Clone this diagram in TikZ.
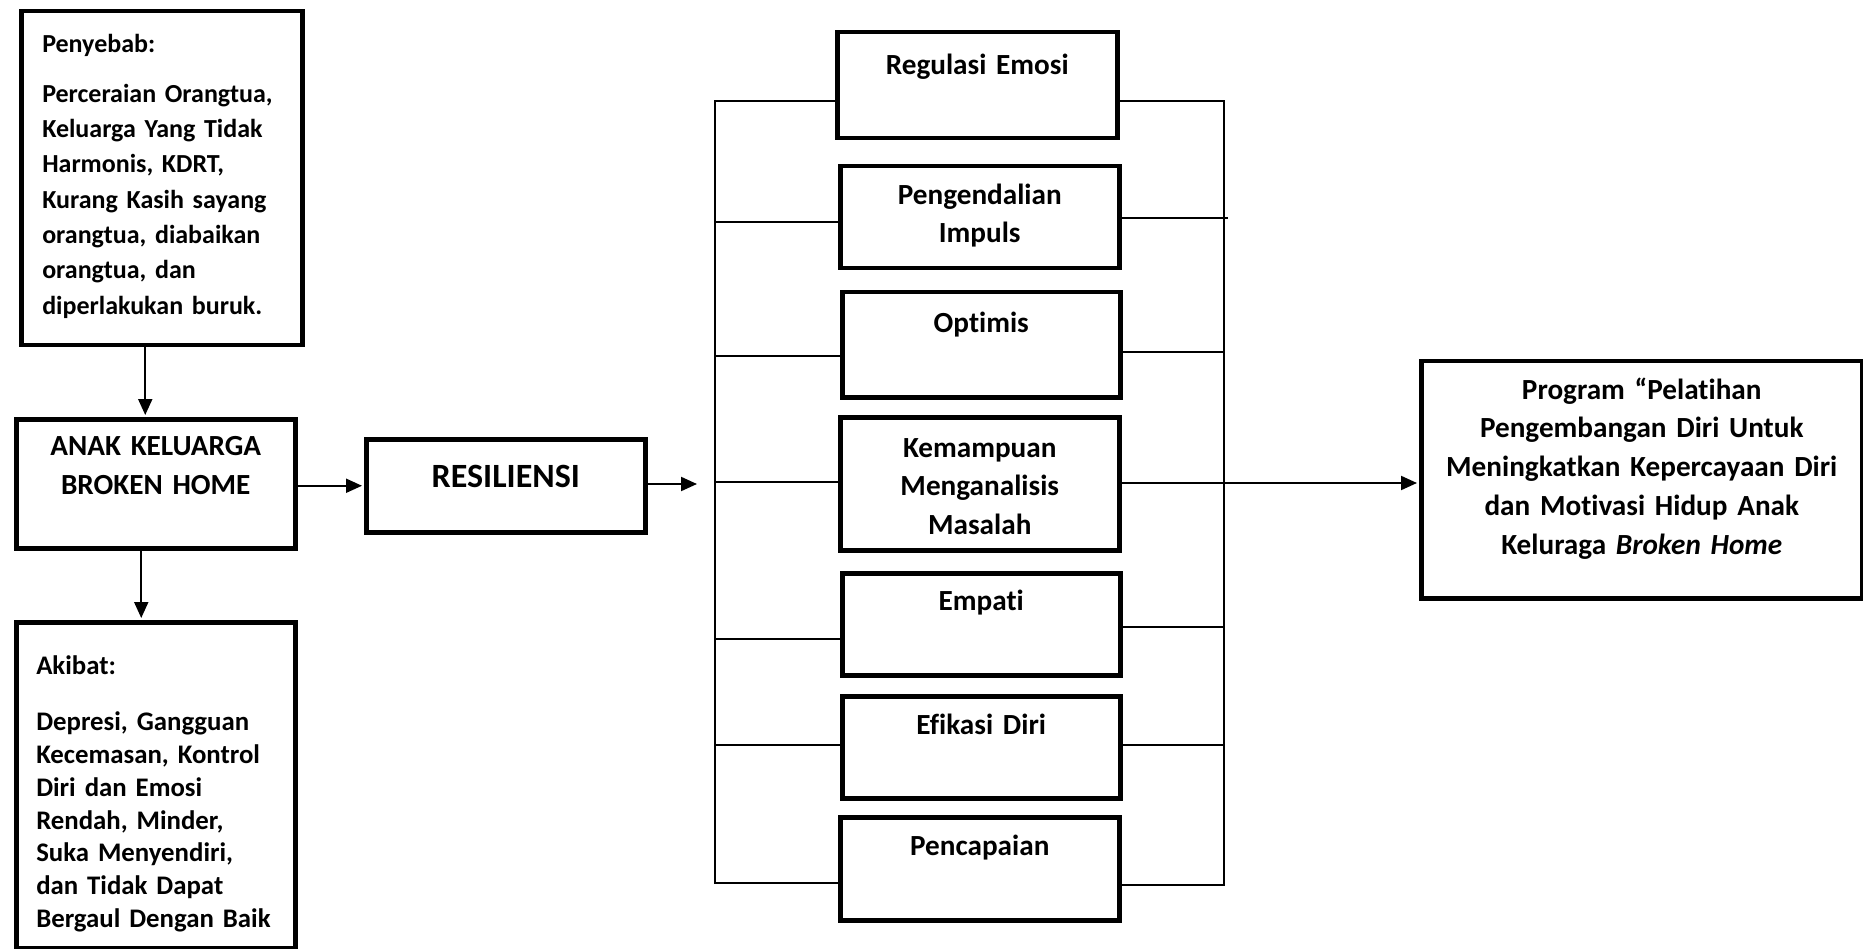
\documentclass[tikz,border=0pt]{standalone}
\usepackage{fontspec}
\setmainfont{Carlito}[Ligatures=NoCommon]
\usetikzlibrary{positioning,arrows.meta}

\begin{document}
\begin{tikzpicture}[x=1pt, y=-1pt,
    box/.style={draw, line width=4.5pt, anchor=north west, inner ysep=0pt, inner xsep=0pt, align=center, font=\fontsize{29.2}{38.5}\selectfont\bfseries},
    listbox/.style={box, align=left},
    conn/.style={line width=2pt},
    arr/.style={conn, shorten >=2pt, -{Triangle[length=16pt,width=14pt]}}]

    \useasboundingbox (0,0) rectangle (1863,949);

    % left column
    \node (penyebab) [listbox, inner xsep=21pt, text width=239pt, text height=41pt, text depth=293pt, font=\fontsize{26}{35.3}\selectfont\bfseries] at (19,9) {Penyebab:\\[14.7pt]
    Perceraian Orangtua,\\
    Keluarga Yang Tidak\\
    Harmonis, KDRT,\\
    Kurang Kasih sayang\\
    orangtua, diabaikan\\
    orangtua, dan\\
    diperlakukan buruk.};

    \node (anak) [box, text width=279pt, text height=36pt, text depth=93pt, font=\fontsize{29.2}{39}\selectfont\bfseries] at (14,417) {ANAK KELUARGA\\
    BROKEN HOME};

    \node (akibat) [listbox, inner xsep=20pt, text width=239pt, text height=52pt, text depth=274pt, font=\fontsize{26.8}{32.7}\selectfont\bfseries] at (14,620) {Akibat:\\[24pt]
    Depresi, Gangguan\\
    Kecemasan, Kontrol\\
    Diri dan Emosi\\
    Rendah, Minder,\\
    Suka Menyendiri,\\
    dan Tidak Dapat\\
    Bergaul Dengan Baik};

    \node (resiliensi) [box, text width=279pt, text height=48pt, text depth=45pt, font=\fontsize{34}{38}\selectfont\bfseries] at (364,437) {RESILIENSI};

    % aspects
    \node (regulasi) [box, text width=280pt, text height=42pt, text depth=64pt] at (835,30) {Regulasi Emosi};
    \node (pengendalian) [box, text width=279pt, text height=38pt, text depth=64pt, font=\fontsize{29.2}{38}\selectfont\bfseries] at (838,164) {Pengendalian\\
    Impuls};
    \node (optimis) [box, text width=278pt, text height=40pt, text depth=65pt] at (840,290) {Optimis};
    \node (kemampuan) [box, text width=279pt, text height=40pt, text depth=93pt] at (838,415) {Kemampuan\\
    Menganalisis\\
    Masalah};
    \node (empati) [box, text width=278pt, text height=37pt, text depth=65pt] at (840,571) {Empati};
    \node (efikasi) [box, text width=278pt, text height=38pt, text depth=64pt] at (840,694) {Efikasi Diri};
    \node (pencapaian) [box, text width=279pt, text height=38pt, text depth=65pt] at (838,815) {Pencapaian};

    \node (program) [box, text width=441pt, text height=38pt, text depth=199pt, font=\fontsize{29.2}{38.7}\selectfont\bfseries] at (1419,359) {Program “Pelatihan\\
    Pengembangan Diri Untuk\\
    Meningkatkan Kepercayaan Diri\\
    dan Motivasi Hidup Anak\\
    Keluraga \textit{Broken Home}};

    % bus points
    \coordinate (busin) at (699,484);
    \coordinate (l1) at (715,101);
    \coordinate (l2) at (715,222);
    \coordinate (l3) at (715,356);
    \coordinate (l4) at (715,482);
    \coordinate (l5) at (715,639);
    \coordinate (l6) at (715,745);
    \coordinate (l7) at (715,883);
    \coordinate (r1) at (1224,101);
    \coordinate (r2) at (1224,218);
    \coordinate (r3) at (1224,352);
    \coordinate (r4) at (1224,483);
    \coordinate (r5) at (1224,627);
    \coordinate (r6) at (1224,745);
    \coordinate (r7) at (1224,885);

    \draw [arr] ([xshift=-16.5pt]penyebab.south) -- ([xshift=-10.5pt]anak.north);
    \draw [arr] ([xshift=-14.5pt]anak.south) -- ([xshift=-14.5pt]akibat.north);
    \draw [arr] (anak.east |- resiliensi.west) -- (resiliensi.west);
    \draw [arr] (resiliensi.east |- busin) -- (busin);

    \draw [conn] (l1 -| regulasi.west) -- (l1) -- (l7) -- (l7 -| pencapaian.west);
    \draw [conn] (l2) -- (l2 -| pengendalian.west);
    \draw [conn] (l3) -- (l3 -| optimis.west);
    \draw [conn] (l4) -- (l4 -| kemampuan.west);
    \draw [conn] (l5) -- (l5 -| empati.west);
    \draw [conn] (l6) -- (l6 -| efikasi.west);

    \draw [conn] (regulasi.east |- r1) -- (r1) -- (r7) -- (pencapaian.east |- r7);
    \draw [conn] (pengendalian.east |- r2) -- ([xshift=4pt]r2);
    \draw [conn] (optimis.east |- r3) -- (r3);
    \draw [conn] (kemampuan.east |- r4) -- (r4);
    \draw [conn] (empati.east |- r5) -- (r5);
    \draw [conn] (efikasi.east |- r6) -- (r6);

    \draw [arr] (r4) -- (r4 -| program.west);

\end{tikzpicture}
\end{document}
